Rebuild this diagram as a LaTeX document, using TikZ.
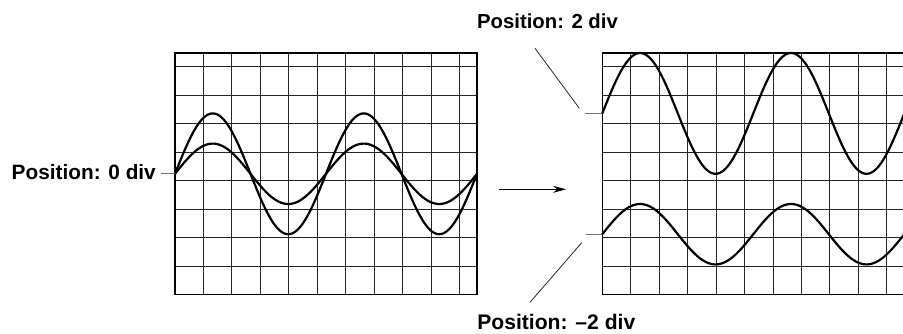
\documentclass[tikz,border=0pt]{standalone}
\usepackage{fontspec}
\setmainfont{Liberation Sans}
\usetikzlibrary{arrows.meta}
\begin{document}
\begin{tikzpicture}[x=1pt,y=1pt,
  gridline/.style={line width=1pt, black!85},
  frame/.style={line width=1.1pt, black},
  wave/.style={line width=2.2pt, black, line join=round},
  leader/.style={line width=0.8pt, black!85},
  levelline/.style={line width=1.1pt, black!55},
  lbl/.style={font=\bfseries\fontsize{#1}{24}\selectfont, inner sep=0pt},
  lbl/.default=21,
  pointer/.style={line width=1pt, black, -{Stealth[length=13pt,width=7pt]}}]
\useasboundingbox (0,0) rectangle (903,333);
% left screen
\begin{scope}[shift={(175,38.4)}, x=30.2pt, y=30.2pt]
  \draw[gridline] (0,0) grid (10,8);
  \draw[frame] (0,0) rectangle (10,8);
  \draw[wave] plot[domain=0:10, samples=201, smooth] (\x, {4+2*sin(72*\x)});
  \draw[wave] plot[domain=0:10, samples=201, smooth] (\x, {4+sin(72*\x)});
  \coordinate (L0) at (0,4);
\end{scope}
% right screen
\begin{scope}[shift={(602.3,38.4)}, x=30.2pt, y=30.2pt]
  \draw[gridline] (0,0) grid (10,8);
  \draw[frame] (0,0) rectangle (10,8);
  \draw[wave] plot[domain=0:10, samples=201, smooth] (\x, {6+2*sin(72*\x)});
  \draw[wave] plot[domain=0:10, samples=201, smooth] (\x, {2+sin(72*\x)});
  \coordinate (Rtop) at (0,6);
  \coordinate (Rbot) at (0,2);
\end{scope}
% labels
\node[lbl=20.8, anchor=base east] (p0) at (156,154) {Position: 0 div};
\node[lbl=20.3, anchor=base] (p2) at (547.5,304.5) {Position: 2 div};
\node[lbl=21.1, anchor=base] (pm2) at (556.3,3.2) {Position: –2 div};
% level marks
\draw[levelline] (L0) -- ([xshift=5pt]p0.east |- L0);
\draw[levelline] (Rtop) -- ++(-17,0) coordinate (Rtopend);
\draw[levelline] (Rbot) -- ++(-16,0) coordinate (Rbotend);
% leaders
\coordinate (d2a) at (535,284.7);
\coordinate (d2b) at (579.3,224.7);
\coordinate (dma) at (581.7,90.3);
\coordinate (dmb) at (530,30.7);
\draw[leader] (d2a) -- (d2b);
\draw[leader] (dma) -- (dmb);
% arrow
\coordinate (a1) at (499.3,143.7);
\coordinate (a2) at (566,143.7);
\draw[pointer] (a1) -- (a2);
\end{tikzpicture}
\end{document}
